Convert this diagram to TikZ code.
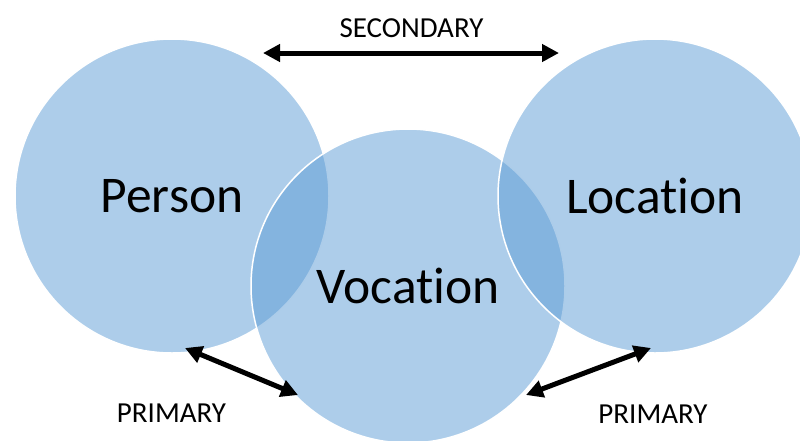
\documentclass[tikz,border=0pt]{standalone}
\usepackage{fontspec}
\setmainfont{Carlito}[Ligatures={NoCommon,NoRare,NoContextual}]
\usetikzlibrary{arrows.meta}
\definecolor{vennblue}{HTML}{5B9BD5}
\tikzset{
  venn/.style={circle, minimum size=314pt, inner sep=0pt, draw=white, line width=1.5pt,
    fill=vennblue, fill opacity=0.5, text opacity=1, font=\fontsize{51.5}{52}\selectfont},
  relation/.style={line width=5pt, {Triangle[length=17pt,width=17pt]}-{Triangle[length=17pt,width=17pt]}},
  tag/.style={font=\fontsize{29}{29}\selectfont, anchor=base}
}
\begin{document}
\begin{tikzpicture}[x=1pt, y=-1pt]
  \useasboundingbox (0,0) rectangle (800,440);
  % the three overlapping circles
  \node[venn] (person) at (172,196) {Person};
  \node[venn] (vocation) at (408,286) {Vocation};
  \node[venn] (location) at (655,196) {Location};
  % arrow end points just outside the circles
  \coordinate (secL) at (263,53);
  \coordinate (secR) at (559,53);
  \coordinate (p1a) at (185,348);
  \coordinate (p1b) at (298,395);
  \coordinate (p2a) at (526,395);
  \coordinate (p2b) at (651,348);
  \draw[relation] (secL) -- (secR);
  \draw[relation] (p1a) -- (p1b);
  \draw[relation] (p2a) -- (p2b);
  % labels
  \node[tag] (sec) at (411.5,37) {SECONDARY};
  \node[tag] (prim1) at (171.5,422) {PRIMARY};
  \node[tag] (prim2) at (653,423) {PRIMARY};
\end{tikzpicture}
\end{document}
